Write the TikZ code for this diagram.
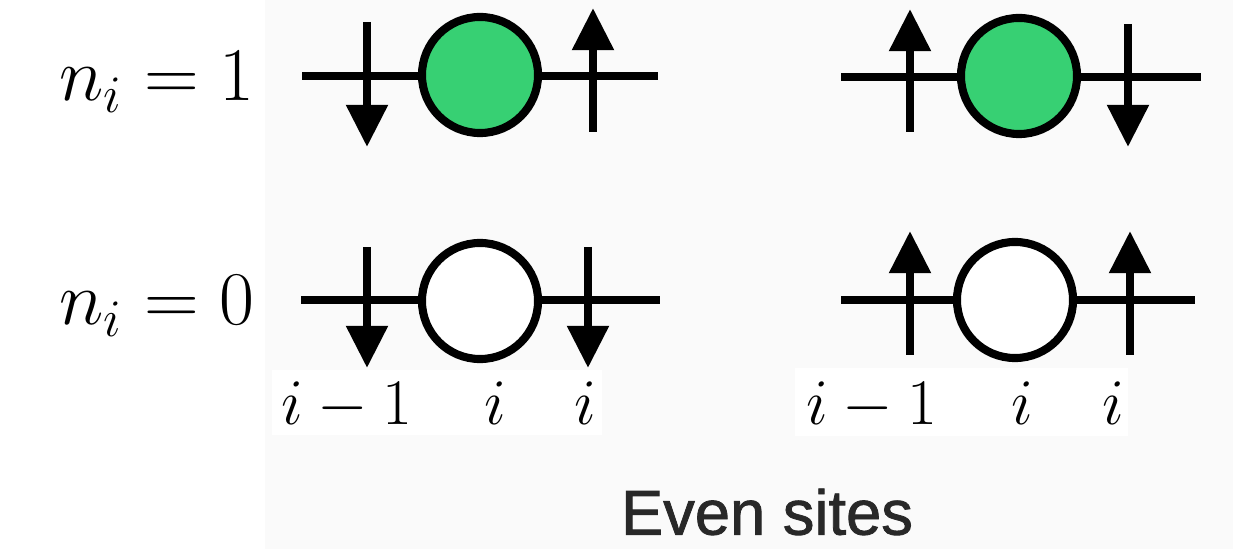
\documentclass[tikz,border=0pt]{standalone}
\usepackage{fontspec}
\newfontfamily\labelsans[FakeBold=1.3]{Liberation Sans}
\usetikzlibrary{arrows.meta}
\definecolor{bggray}{RGB}{250,250,250}
\definecolor{fillgreen}{RGB}{55,208,115}
\definecolor{textdark}{RGB}{40,40,40}
\tikzset{
  wire/.style={line width=2pt},
  site/.style={circle,draw,line width=2.3pt,minimum size=1.16cm,inner sep=0pt},
  occ/.style={site,fill=fillgreen},
  emp/.style={site,fill=white},
  spin/.style={line width=2.4pt,-{Triangle[width=11.4pt,length=12pt]}},
  biglab/.style={anchor=base,inner sep=0pt,font=\huge,scale=1.04},
  idx/.style={anchor=base,inner sep=0pt,font=\LARGE,scale=1.07},
  title/.style={inner sep=0pt,text=textdark,font=\labelsans\fontsize{18}{22}\selectfont}
}
\begin{document}
\begin{tikzpicture}[x=0.01cm,y=-0.01cm]
\useasboundingbox (0,0) rectangle (1233,549);
\fill[white] (0,0) rectangle (1233,549);
\fill[bggray] (265,0) rectangle (1233,549);
\fill[white] (272,370) rectangle (602,435);
\fill[white] (795,368) rectangle (1128,436);

% labels
\node[biglab] (l1) at (157,101) {$n_i=1$};
\node[biglab] (l0) at (157,325) {$n_i=0$};

% top left
\coordinate (a1) at (302,76); \coordinate (a2) at (658,76);
\draw[wire] (a1) -- (a2);
\node[occ] (c1) at (480,75) {};
\coordinate (a3) at (367,22); \coordinate (a4) at (367,147);
\draw[spin] (a3) -- (a4);
\coordinate (a5) at (593,132); \coordinate (a6) at (593,8);
\draw[spin] (a5) -- (a6);

% top right
\coordinate (b1) at (841,77); \coordinate (b2) at (1201,77);
\draw[wire] (b1) -- (b2);
\node[occ] (c2) at (1019,76) {};
\coordinate (b3) at (910,132); \coordinate (b4) at (910,9);
\draw[spin] (b3) -- (b4);
\coordinate (b5) at (1128,24); \coordinate (b6) at (1128,147);
\draw[spin] (b5) -- (b6);

% bottom left
\coordinate (d1) at (301,300); \coordinate (d2) at (660,300);
\draw[wire] (d1) -- (d2);
\node[emp] (c3) at (480,301) {};
\coordinate (d3) at (367,247); \coordinate (d4) at (367,368);
\draw[spin] (d3) -- (d4);
\coordinate (d5) at (588,247); \coordinate (d6) at (588,368);
\draw[spin] (d5) -- (d6);

% bottom right
\coordinate (e1) at (841,300); \coordinate (e2) at (1195,300);
\draw[wire] (e1) -- (e2);
\node[emp] (c4) at (1015,300) {};
\coordinate (e3) at (910,355); \coordinate (e4) at (910,231);
\draw[spin] (e3) -- (e4);
\coordinate (e5) at (1130,355); \coordinate (e6) at (1130,231);
\draw[spin] (e5) -- (e6);

% index labels
\node[idx] (i1) at (347,425) {$i-1$};
\node[idx] (i2) at (495,425) {$i$};
\node[idx] (i3) at (585,425) {$i$};
\node[idx] (j1) at (872,425) {$i-1$};
\node[idx] (j2) at (1022,425) {$i$};
\node[idx] (j3) at (1113,425) {$i$};

\node[title] (t) at (767,512) {Even sites};
\end{tikzpicture}
\end{document}
